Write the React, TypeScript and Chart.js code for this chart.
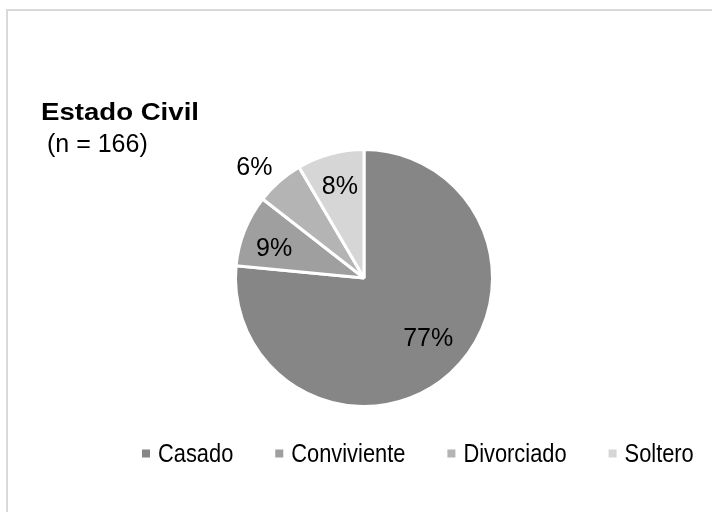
import React, { useEffect, useRef } from "react";
import { Chart, registerables } from "chart.js";

Chart.register(...registerables);

const categories = ["Casado", "Conviviente", "Divorciado", "Soltero"];
const counts = [127, 15, 10, 14];
const colors = ["#868686", "#9f9f9f", "#b4b4b4", "#d6d6d6"];
const titleText = "Estado Civil";
const subtitleText = "(n = 166)";

// label placement tweaks: radial factor and angle offset (degrees)
const labelPlacement = [
  { f: 0.68, da: -5 },
  { f: 0.74, da: -2.6 },
  { f: 1.22, da: -3.2 },
  { f: 0.75, da: 0.7 },
];

const FONT = "'Liberation Sans', Arial, sans-serif";

const decorPlugin = {
  id: "decor",
  beforeDraw(chart: any) {
    const ctx = chart.ctx;
    ctx.save();
    ctx.fillStyle = "#ffffff";
    ctx.fillRect(0, 0, chart.width, chart.height);
    ctx.strokeStyle = "#d9d9d9";
    ctx.lineWidth = 2;
    ctx.beginPath();
    ctx.moveTo(7, chart.height + 5);
    ctx.lineTo(7, 10);
    ctx.lineTo(chart.width + 5, 10);
    ctx.stroke();
    ctx.restore();
  },
  afterDraw(chart: any) {
    const ctx = chart.ctx;
    ctx.save();
    // title
    ctx.fillStyle = "#000000";
    ctx.textAlign = "left";
    ctx.textBaseline = "alphabetic";
    ctx.save();
    ctx.translate(41, 120);
    ctx.scale(1.15, 1);
    ctx.font = `bold 24px ${FONT}`;
    ctx.fillText(titleText, 0, 0);
    ctx.restore();
    ctx.font = `25px ${FONT}`;
    ctx.fillText(subtitleText, 47, 152);

    // data labels
    const meta = chart.getDatasetMeta(0);
    const data = chart.data.datasets[0].data as number[];
    const total = data.reduce((a, b) => a + b, 0);
    ctx.font = `25px ${FONT}`;
    ctx.textAlign = "center";
    meta.data.forEach((arc: any, i: number) => {
      const p = arc.getProps(["x", "y", "startAngle", "endAngle", "outerRadius"], true);
      const mid = (p.startAngle + p.endAngle) / 2 + (labelPlacement[i].da * Math.PI) / 180;
      const r = p.outerRadius * labelPlacement[i].f;
      const x = p.x + Math.cos(mid) * r;
      const y = p.y + Math.sin(mid) * r;
      const pct = Math.round((data[i] / total) * 100) + "%";
      ctx.fillText(pct, x, y + 9);
    });

    // legend
    const sx = 0.84;
    let x = 142;
    ctx.textAlign = "left";
    ctx.font = `26px ${FONT}`;
    chart.data.labels.forEach((lab: string, i: number) => {
      ctx.fillStyle = colors[i];
      ctx.fillRect(x, 449.5, 8, 8);
      x += 16;
      ctx.fillStyle = "#000000";
      ctx.save();
      ctx.translate(x, 462);
      ctx.scale(sx, 1);
      ctx.fillText(lab, 0, 0);
      ctx.restore();
      x += ctx.measureText(lab).width * sx + 42;
    });
    ctx.restore();
  },
};

export default function App() {
  const ref = useRef<HTMLCanvasElement>(null);
  useEffect(() => {
    document.body.style.margin = "0";
    const chart = new Chart(ref.current!, {
      type: "pie",
      data: {
        labels: categories,
        datasets: [
          {
            data: counts,
            backgroundColor: colors,
            borderColor: "#ffffff",
            borderWidth: 3,
          },
        ],
      },
      options: {
        responsive: false,
        maintainAspectRatio: false,
        animation: false,
        layout: { padding: { left: 234, top: 148, right: 218, bottom: 104 } },
        plugins: {
          legend: { display: false },
          tooltip: { enabled: false },
          title: { display: false },
        },
      },
      plugins: [decorPlugin],
    });
    return () => chart.destroy();
  }, []);
  return (
    <div style={{ position: "absolute", left: 0, top: 0, width: 712, height: 512 }}>
      <canvas ref={ref} width={712} height={512} />
    </div>
  );
}
